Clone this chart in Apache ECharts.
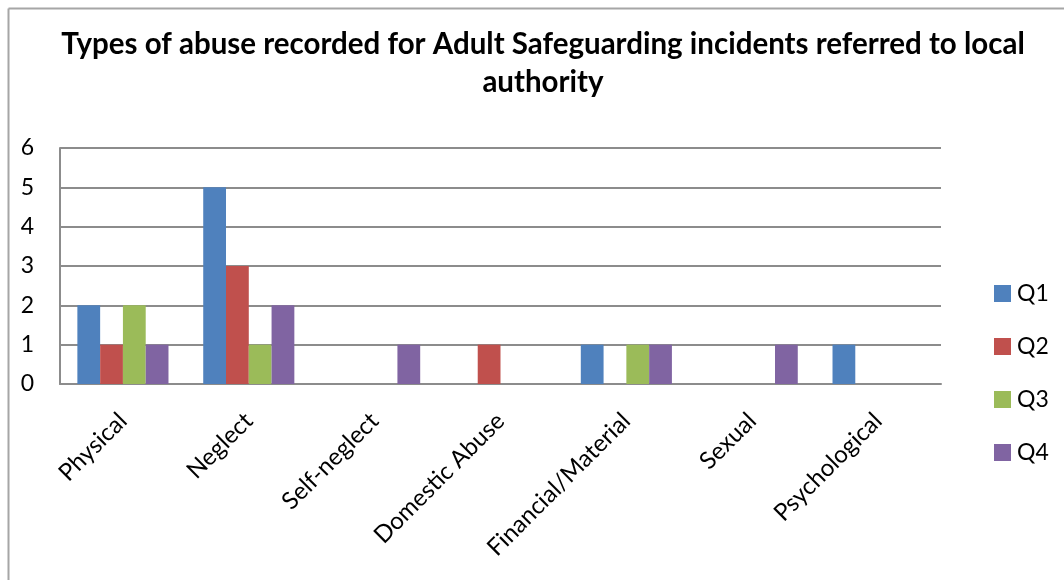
<!DOCTYPE html>
<html>
<head>
<meta charset="utf-8">
<script src="https://cdn.jsdelivr.net/npm/echarts@6/dist/echarts.min.js"></script>
<style>
  html, body { margin: 0; padding: 0; background: #fff; }
  #chart { width: 1064px; height: 580px; }
</style>
</head>
<body>
<div id="chart"></div>
<script>
// Abuse types recorded per quarter
const categories = ['Physical', 'Neglect', 'Self-neglect', 'Domestic Abuse', 'Financial/Material', 'Sexual', 'Psychological'];
const seriesNames = ['Q1', 'Q2', 'Q3', 'Q4'];
const q1 = [2, 5, 0, 0, 1, 0, 1];
const q2 = [1, 3, 0, 1, 0, 0, 0];
const q3 = [2, 1, 0, 0, 1, 0, 0];
const q4 = [1, 2, 1, 0, 1, 1, 0];
const yTicks = [0, 1, 2, 3, 4, 5, 6];

const colors = ['#4F81BD', '#C0504D', '#9BBB59', '#8064A2'];
const seriesData = [q1, q2, q3, q4];
const FONT = 'Lato, "Open Sans", sans-serif';

const chart = echarts.init(document.getElementById('chart'), null, { renderer: 'canvas' });

chart.setOption({
  animation: false,
  color: colors,
  title: {
    text: 'Types of abuse recorded for Adult Safeguarding incidents referred to local\nauthority',
    left: 538,
    textAlign: 'center',
    top: 20,
    textStyle: {
      fontFamily: FONT,
      fontWeight: 'bold',
      fontSize: 29.5,
      lineHeight: 38,
      color: '#000'
    }
  },
  legend: {
    orient: 'vertical',
    left: 989,
    top: 277,
    itemWidth: 17,
    itemHeight: 17,
    itemGap: 30,
    icon: 'rect',
    textStyle: { fontFamily: FONT, fontSize: 23, color: '#000', padding: [0, 0, 0, 1] },
    data: seriesNames
  },
  grid: { left: 60, top: 148, width: 881, height: 236, containLabel: false },
  xAxis: {
    type: 'category',
    data: categories,
    axisLine: { show: true, lineStyle: { color: '#8c8c8c', width: 2 } },
    axisTick: { show: false },
    axisLabel: {
      rotate: 45,
      interval: 0,
      margin: 33,
      fontFamily: FONT,
      fontSize: 24,
      color: '#000'
    }
  },
  yAxis: {
    type: 'value',
    min: yTicks[0],
    max: yTicks[yTicks.length - 1],
    interval: 1,
    axisLine: { show: true, lineStyle: { color: '#8c8c8c', width: 2 } },
    axisTick: { show: false },
    axisLabel: {
      margin: 26,
      fontFamily: FONT,
      fontSize: 23,
      color: '#000'
    },
    splitLine: { show: true, lineStyle: { color: '#8c8c8c', width: 2 } }
  },
  series: seriesNames.map((name, i) => ({
    name: name,
    type: 'bar',
    data: seriesData[i],
    barGap: '0%',
    barCategoryGap: '27.6%',
    itemStyle: { color: colors[i] }
  })),
  graphic: [
    { type: 'line', shape: { x1: 8.5, y1: 8.5, x2: 1064, y2: 8.5 }, style: { stroke: '#a6a6a6', lineWidth: 2 } },
    { type: 'line', shape: { x1: 8.5, y1: 8.5, x2: 8.5, y2: 580 }, style: { stroke: '#a6a6a6', lineWidth: 2 } }
  ]
});
</script>
</body>
</html>
